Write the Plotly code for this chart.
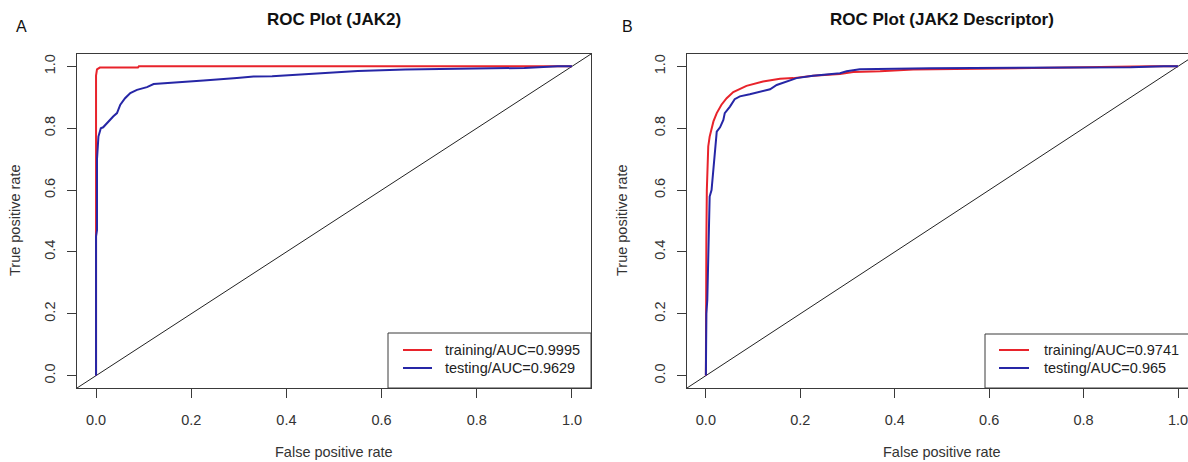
import plotly.graph_objects as go

W, H = 1188, 462

# ---------------- data ----------------
tick_vals = [0.0, 0.2, 0.4, 0.6, 0.8, 1.0]
tick_text = ["0.0", "0.2", "0.4", "0.6", "0.8", "1.0"]
axis_range = [-0.04, 1.04]

# Panel A (JAK2)
a_train_fpr = [0, 0, 0.002, 0.008, 0.088, 0.09, 1.0]
a_train_tpr = [0, 0.97, 0.99, 0.996, 0.996, 1.0, 1.0]
a_test_fpr = [0, 0, 0.002, 0.002, 0.005, 0.010, 0.015, 0.026, 0.036, 0.044, 0.051, 0.061,
              0.072, 0.086, 0.107, 0.121, 0.156, 0.226, 0.296, 0.331, 0.37, 0.45, 0.55,
              0.65, 0.8, 0.9, 0.97, 1.0]
a_test_tpr = [0, 0.45, 0.47, 0.70, 0.773, 0.80, 0.803, 0.822, 0.838, 0.849, 0.876, 0.897,
              0.914, 0.924, 0.933, 0.943, 0.946, 0.954, 0.962, 0.967, 0.968, 0.975, 0.985,
              0.99, 0.993, 0.995, 1.0, 1.0]

# Panel B (JAK2 Descriptor)
b_train_fpr = [0, 0, 0.001, 0.002, 0.003, 0.005, 0.008, 0.016, 0.023, 0.033, 0.044, 0.058,
               0.086, 0.121, 0.157, 0.185, 0.227, 0.284, 0.312, 0.369, 0.439, 0.6, 0.8,
               0.943, 1.0]
b_train_tpr = [0, 0.30, 0.44, 0.60, 0.676, 0.741, 0.773, 0.822, 0.849, 0.876, 0.897, 0.917,
               0.937, 0.951, 0.96, 0.962, 0.97, 0.975, 0.982, 0.984, 0.99, 0.994, 0.997,
               1.0, 1.0]
b_test_fpr = [0, 0.001, 0.003, 0.005, 0.008, 0.012, 0.016, 0.019, 0.023, 0.030, 0.037, 0.040,
              0.051, 0.061, 0.072, 0.093, 0.114, 0.136, 0.150, 0.171, 0.192, 0.227, 0.284,
              0.298, 0.326, 0.475, 0.7, 0.9, 0.97, 1.0]
b_test_tpr = [0, 0.20, 0.245, 0.406, 0.579, 0.60, 0.676, 0.741, 0.789, 0.803, 0.827, 0.849,
              0.870, 0.894, 0.903, 0.910, 0.917, 0.926, 0.940, 0.951, 0.962, 0.970, 0.978,
              0.984, 0.991, 0.994, 0.995, 0.997, 1.0, 1.0]

titles = ["ROC Plot (JAK2)", "ROC Plot (JAK2 Descriptor)"]
panel_letters = ["A", "B"]
legend_a = ["training/AUC=0.9995", "testing/AUC=0.9629"]
legend_b = ["training/AUC=0.9741", "testing/AUC=0.965"]
x_title = "False positive rate"
y_title = "True positive rate"

RED = "#e8232b"
BLUE = "#2626a6"
AX = "#3a3a3a"
FONT = "Liberation Sans, Arial, sans-serif"
FS = 14.5


def px(x):
    return x / W


def py(y):
    return 1 - y / H


fig = go.Figure()

# diagonal reference lines
fig.add_trace(go.Scatter(x=axis_range, y=axis_range, mode="lines",
                         line=dict(color="#222222", width=1), xaxis="x", yaxis="y",
                         showlegend=False, hoverinfo="skip"))
fig.add_trace(go.Scatter(x=axis_range, y=axis_range, mode="lines",
                         line=dict(color="#222222", width=1), xaxis="x2", yaxis="y2",
                         showlegend=False, hoverinfo="skip"))

# ROC curves
fig.add_trace(go.Scatter(x=a_train_fpr, y=a_train_tpr, mode="lines", name=legend_a[0],
                         line=dict(color=RED, width=2), xaxis="x", yaxis="y", showlegend=False))
fig.add_trace(go.Scatter(x=a_test_fpr, y=a_test_tpr, mode="lines", name=legend_a[1],
                         line=dict(color=BLUE, width=2), xaxis="x", yaxis="y", showlegend=False))
fig.add_trace(go.Scatter(x=b_train_fpr, y=b_train_tpr, mode="lines", name=legend_b[0],
                         line=dict(color=RED, width=2), xaxis="x2", yaxis="y2", showlegend=False))
fig.add_trace(go.Scatter(x=b_test_fpr, y=b_test_tpr, mode="lines", name=legend_b[1],
                         line=dict(color=BLUE, width=2), xaxis="x2", yaxis="y2", showlegend=False))

y_dom = [py(388), py(54)]
common_x = dict(tickvals=tick_vals, ticktext=tick_text, ticks="outside", ticklen=9,
                tickcolor=AX, showline=True, linecolor=AX, linewidth=1, showgrid=False,
                zeroline=False, tickfont=dict(family=FONT, size=FS, color="#333333"),
                ticklabelstandoff=10, ticklabeloverflow="allow", fixedrange=True)
common_y = dict(tickvals=tick_vals, ticktext=tick_text, ticks="outside", ticklen=9,
                tickcolor=AX, showline=True, linecolor=AX, linewidth=1, showgrid=False,
                zeroline=False, tickfont=dict(family=FONT, size=FS, color="#333333"),
                tickangle=-90, ticklabelstandoff=6, range=axis_range, domain=y_dom,
                fixedrange=True)

fig.update_layout(
    width=W, height=H, margin=dict(l=0, r=0, t=0, b=0),
    paper_bgcolor="white", plot_bgcolor="white", showlegend=False,
    xaxis=dict(domain=[px(77), px(591)], range=axis_range, anchor="y", mirror=True, **common_x),
    yaxis=dict(anchor="x", mirror=True, **common_y),
    xaxis2=dict(domain=[px(687), 1.0], range=[-0.04, (1188 - 706) / 472.0], anchor="y2",
                mirror=True, **common_x),
    yaxis2=dict(anchor="x2", mirror=False, **common_y),
)

ann = []
# titles
for cx, t in zip([334, 942], titles):
    ann.append(dict(x=px(cx), y=py(20), xref="paper", yref="paper", text="<b>%s</b>" % t,
                    showarrow=False, xanchor="center", yanchor="middle",
                    font=dict(family=FONT, size=17, color="#111111")))
# panel letters
for cx, t in zip([21, 627], panel_letters):
    ann.append(dict(x=px(cx), y=py(27), xref="paper", yref="paper", text=t,
                    showarrow=False, xanchor="center", yanchor="middle",
                    font=dict(family=FONT, size=16, color="#111111")))
# axis titles
for cx in [334, 942]:
    ann.append(dict(x=px(cx), y=py(452), xref="paper", yref="paper", text=x_title,
                    showarrow=False, xanchor="center", yanchor="middle",
                    font=dict(family=FONT, size=FS, color="#333333")))
for cx in [15, 622]:
    ann.append(dict(x=px(cx), y=py(221), xref="paper", yref="paper", text=y_title,
                    showarrow=False, xanchor="center", yanchor="middle", textangle=-90,
                    font=dict(family=FONT, size=FS, color="#333333")))

shapes = []
# legends
for (bx0, bx1, by0, by1, lx0, lx1, tx, labels) in [
    (388, 591, 333, 388, 403, 432, 443, legend_a),
    (985, 1200, 334, 388, 999, 1029, 1042, legend_b),
]:
    shapes.append(dict(type="rect", xref="paper", yref="paper", x0=px(bx0), x1=px(bx1),
                       y0=py(by1), y1=py(by0), line=dict(color=AX, width=1),
                       fillcolor="white", layer="above"))
    for ly, col, lab in zip([350, 368], [RED, BLUE], labels):
        shapes.append(dict(type="line", xref="paper", yref="paper", x0=px(lx0), x1=px(lx1),
                           y0=py(ly), y1=py(ly), line=dict(color=col, width=2), layer="above"))
        ann.append(dict(x=px(tx), y=py(ly), xref="paper", yref="paper", text=lab,
                        showarrow=False, xanchor="left", yanchor="middle",
                        font=dict(family=FONT, size=FS, color="#222222")))

fig.update_layout(annotations=ann, shapes=shapes)
fig.write_html("out.html", config={"displayModeBar": False, "staticPlot": True},
               post_script="document.body.style.margin='0';document.body.style.overflow='hidden';")
